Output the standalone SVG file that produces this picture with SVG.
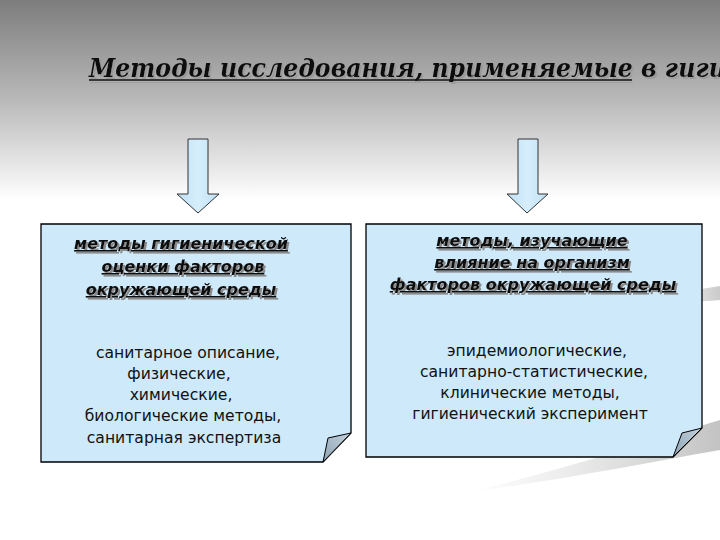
<svg xmlns="http://www.w3.org/2000/svg" width="720" height="540" viewBox="0 0 720 540">
<defs>
<linearGradient id="bg" x1="0" y1="0" x2="0" y2="1">
<stop offset="0" stop-color="#7d7d7d"/>
<stop offset="0.5" stop-color="#b9b9b9"/>
<stop offset="1" stop-color="#ffffff"/>
</linearGradient>
<linearGradient id="swoosh" x1="0" y1="0" x2="1" y2="0">
<stop offset="0" stop-color="#c8c8c8" stop-opacity="0"/>
<stop offset="1" stop-color="#b4b4b4" stop-opacity="1"/>
</linearGradient>
<linearGradient id="arrowFill" x1="0" y1="0" x2="1" y2="0">
<stop offset="0" stop-color="#bfe0f5"/>
<stop offset="0.5" stop-color="#d6eefc"/>
<stop offset="1" stop-color="#bfe0f5"/>
</linearGradient>
<linearGradient id="fold" x1="0" y1="1" x2="1" y2="0">
<stop offset="0" stop-color="#8ea3b3"/>
<stop offset="1" stop-color="#c4d3de"/>
</linearGradient>
<filter id="shadowT" x="-5%" y="-30%" width="115%" height="160%">
<feOffset in="SourceAlpha" dx="2" dy="2" result="o"/>
<feFlood flood-color="#9a9a9a"/>
<feComposite in2="o" operator="in" result="s"/>
<feMerge><feMergeNode in="s"/><feMergeNode in="SourceGraphic"/></feMerge>
</filter>
<filter id="shadowH" x="-5%" y="-30%" width="115%" height="160%">
<feOffset in="SourceAlpha" dx="1.5" dy="1.5" result="o"/>
<feFlood flood-color="#8a8a8a"/>
<feComposite in2="o" operator="in" result="s"/>
<feMerge><feMergeNode in="s"/><feMergeNode in="SourceGraphic"/></feMerge>
</filter>
<style>
.box{fill:#cde9fa;stroke:#000;stroke-width:1.3}
.foldc{fill:url(#fold);stroke:#000;stroke-width:1}
.arrow{fill:url(#arrowFill);stroke:#333;stroke-width:1}
.head{font-family:"DejaVu Sans",Verdana,sans-serif;font-weight:bold;font-style:italic;font-size:16px;text-anchor:middle;text-decoration:underline;fill:#111;filter:url(#shadowH)}
.body{font-family:"DejaVu Sans",Tahoma,sans-serif;font-size:15.6px;fill:#111;text-anchor:middle}
.title{font-family:"DejaVu Serif","Liberation Serif",serif;font-weight:bold;font-style:italic;font-size:26px;fill:#111;filter:url(#shadowT)}
</style>
</defs>
<rect x="0" y="0" width="720" height="200" fill="url(#bg)"/>
<rect x="0" y="200" width="720" height="340" fill="#ffffff"/>
<path d="M470,492 C560,470 650,442 720,420 L720,450 C640,464 560,480 470,492 Z" fill="url(#swoosh)" opacity="0.8"/>
<path d="M650,300 C675,294 700,289 720,286 L720,300 C700,302 675,303 650,300 Z" fill="url(#swoosh)" opacity="0.7"/>
<g id="title">
<text class="title" x="89" y="77" textLength="652" lengthAdjust="spacingAndGlyphs">Методы исследования, применяемые в гигие</text>
<line x1="89" y1="80" x2="632" y2="80" stroke="#111" stroke-width="1.6"/>
<line x1="90" y1="82.5" x2="633" y2="82.5" stroke="#a0a0a0" stroke-width="1.2"/>
</g>
<g id="connectors">
<path class="arrow" d="M188,139 L208,139 L208,194 L219,194 L198,213 L177,194 L188,194 Z"/>
<path class="arrow" d="M518,139 L538,139 L538,194 L548,194 L527,213 L507,194 L518,194 Z"/>
</g>
<g id="left-box">
<path class="box" d="M41,224 L351,224 L351,433 L323,462 L41,462 Z"/>
<path d="M323,462 L351,433" stroke="#777" stroke-width="1" fill="none"/>
<path class="foldc" d="M323,462 L328,438 L351,433 Z" stroke-linejoin="round"/>
<text class="head" x="181" y="249">методы гигиенической</text>
<text class="head" x="183" y="272">оценки факторов</text>
<text class="head" x="181" y="295">окружающей среды</text>
<text class="body" x="188" y="358">санитарное описание,</text>
<text class="body" x="179" y="379">физические,</text>
<text class="body" x="181" y="400">химические,</text>
<text class="body" x="183" y="421">биологические методы,</text>
<text class="body" x="184" y="443">санитарная экспертиза</text>
</g>
<g id="right-box">
<path class="box" d="M366,224 L702,224 L702,428 L673,457 L366,457 Z"/>
<path d="M673,457 L702,428" stroke="#777" stroke-width="1" fill="none"/>
<path class="foldc" d="M673,457 L682,433 L702,428 Z" stroke-linejoin="round"/>
<text class="head" x="532" y="246">методы, изучающие</text>
<text class="head" x="532" y="268">влияние на организм</text>
<text class="head" x="533" y="290">факторов окружающей среды</text>
<text class="body" x="537" y="356">эпидемиологические,</text>
<text class="body" x="534" y="377">санитарно-статистические,</text>
<text class="body" x="530" y="398">клинические методы,</text>
<text class="body" x="530" y="419">гигиенический эксперимент</text>
</g>
</svg>
